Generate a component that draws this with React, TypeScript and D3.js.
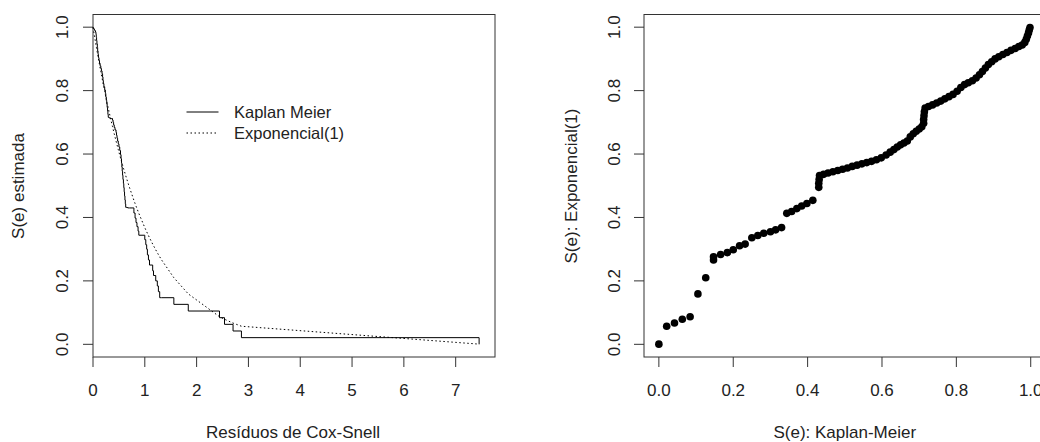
import React from "react";
import * as d3 from "d3";

// Right panel: pairs (S_KM(e_i), S_Exp(e_i)), ascending KM
const kmSurv: number[] = [
  0, 0.021, 0.042, 0.063, 0.084, 0.105, 0.126, 0.147, 0.147, 0.166, 0.184, 0.2, 0.217, 0.232, 0.25, 0.266,
  0.282, 0.3, 0.314, 0.33, 0.344, 0.357, 0.371, 0.384, 0.398, 0.414,
  0.43, 0.43, 0.431, 0.432, 0.443, 0.455, 0.468, 0.481, 0.494, 0.507, 0.52, 0.533, 0.546, 0.559, 0.572, 0.585,
  0.598, 0.611, 0.622, 0.632, 0.641, 0.65, 0.659, 0.668, 0.676, 0.684, 0.692, 0.7, 0.707, 0.712, 0.712, 0.713,
  0.714, 0.716, 0.725, 0.736, 0.747, 0.758, 0.769, 0.78, 0.791, 0.802, 0.812, 0.822, 0.832, 0.843, 0.853, 0.862,
  0.87, 0.878, 0.886, 0.895, 0.904, 0.914, 0.925, 0.936, 0.947, 0.958, 0.968, 0.977, 0.984, 0.988, 0.991, 0.994,
  0.996, 0.998,
];
const expSurv: number[] = [
  0.00058, 0.057, 0.067, 0.079, 0.087, 0.159, 0.21, 0.266, 0.276, 0.283, 0.289, 0.298, 0.311, 0.316, 0.336, 0.343,
  0.35, 0.355, 0.361, 0.368, 0.413, 0.419, 0.428, 0.436, 0.444, 0.454,
  0.495, 0.508, 0.52, 0.532, 0.536, 0.54, 0.544, 0.548, 0.552, 0.556, 0.561, 0.565, 0.569, 0.573, 0.577, 0.582,
  0.588, 0.597, 0.606, 0.614, 0.622, 0.629, 0.635, 0.641, 0.654, 0.664, 0.672, 0.679, 0.686, 0.697, 0.709, 0.721,
  0.733, 0.745, 0.75, 0.755, 0.761, 0.767, 0.774, 0.781, 0.788, 0.798, 0.81, 0.819, 0.825, 0.831, 0.84, 0.85,
  0.86, 0.871, 0.882, 0.891, 0.9, 0.907, 0.914, 0.92, 0.927, 0.933, 0.939, 0.944, 0.952, 0.962, 0.972, 0.982,
  0.991, 0.999,
];

const leftXTicks = [0, 1, 2, 3, 4, 5, 6, 7];
const probTicks = [0, 0.2, 0.4, 0.6, 0.8, 1.0];
const legendLabels = ["Kaplan Meier", "Exponencial(1)"];

const FONT = "'Liberation Sans', Arial, Helvetica, sans-serif";
const FS = 17;
const TXT = "#222";
const LN = "#333";

export default function App() {
  // Cox-Snell residuals (left panel x) from the Exp(1) survival values
  const pts = kmSurv.map((s, i) => ({ s, e: expSurv[i], t: -Math.log(expSurv[i]) }));
  const byT = [...pts].sort((a, b) => a.t - b.t);

  const yScale = d3.scaleLinear().domain([-0.04, 1.04]).range([357, 14.5]);
  const xL = d3.scaleLinear().domain([0, 7.759]).range([93, 495]);
  const xR = d3.scaleLinear().domain([-0.04, 1.04]).range([644, 1045.6]);

  // KM step function
  const stepData: [number, number][] = [[0, 1]];
  byT.forEach((p) => stepData.push([p.t, p.s]));
  const stepLine = d3
    .line<[number, number]>()
    .x((d) => xL(d[0]))
    .y((d) => yScale(d[1]))
    .curve(d3.curveStepAfter);
  const expLine = d3
    .line<{ t: number; e: number }>()
    .x((d) => xL(d.t))
    .y((d) => yScale(d.e));

  const yAxisLeft = (x0: number, labelX: number) =>
    probTicks.map((v) => (
      <g key={v}>
        <line x1={x0 - 10} x2={x0} y1={yScale(v)} y2={yScale(v)} stroke={LN} />
        <text
          transform={`translate(${labelX},${yScale(v)}) rotate(-90)`}
          textAnchor="middle"
          fontSize={FS}
          fill={TXT}
        >
          {v.toFixed(1)}
        </text>
      </g>
    ));

  return (
    <div style={{ position: "absolute", left: 0, top: 0 }}>
      <svg width={1040} height={442} style={{ display: "block", fontFamily: FONT }}>
        <rect x={0} y={0} width={1040} height={442} fill="#fff" />
        {/* LEFT PANEL */}
        <g>
          <rect x={93} y={14.5} width={402} height={342.5} fill="none" stroke={LN} />
          {leftXTicks.map((v) => (
            <g key={v}>
              <line x1={xL(v)} x2={xL(v)} y1={357} y2={367} stroke={LN} />
              <text x={xL(v)} y={396} textAnchor="middle" fontSize={FS} fill={TXT}>
                {v}
              </text>
            </g>
          ))}
          {yAxisLeft(93, 68)}
          <text x={xL(0) + 200} y={438} textAnchor="middle" fontSize={FS} fill={TXT}>
            Resíduos de Cox-Snell
          </text>
          <text transform={`translate(24,186) rotate(-90)`} textAnchor="middle" fontSize={FS} fill={TXT}>
            S(e) estimada
          </text>
          <path d={stepLine(stepData) || ""} fill="none" stroke="#000" strokeWidth={1} />
          <path
            d={expLine(byT) || ""}
            fill="none"
            stroke="#000"
            strokeWidth={1}
            strokeDasharray="1.5,2.5"
          />
          {/* legend */}
          <line x1={186.5} x2={218.5} y1={112} y2={112} stroke="#000" />
          <line x1={186.5} x2={218.5} y1={133} y2={133} stroke="#000" strokeDasharray="1.5,2.5" />
          <text x={234} y={118} fontSize={16.5} fill={TXT}>
            {legendLabels[0]}
          </text>
          <text x={234} y={139} fontSize={16.5} fill={TXT}>
            {legendLabels[1]}
          </text>
        </g>
        {/* RIGHT PANEL */}
        <g>
          <rect x={644} y={14.5} width={401.6} height={342.5} fill="none" stroke={LN} />
          {probTicks.map((v) => (
            <g key={v}>
              <line x1={xR(v)} x2={xR(v)} y1={357} y2={367} stroke={LN} />
              <text x={xR(v)} y={396} textAnchor="middle" fontSize={FS} fill={TXT}>
                {v.toFixed(1)}
              </text>
            </g>
          ))}
          {yAxisLeft(644, 620)}
          <text x={xR(0.5)} y={438} textAnchor="middle" fontSize={FS} fill={TXT}>
            S(e): Kaplan-Meier
          </text>
          <text transform={`translate(577,186) rotate(-90)`} textAnchor="middle" fontSize={FS} fill={TXT}>
            S(e): Exponencial(1)
          </text>
          {pts.map((p, i) => (
            <circle key={i} cx={xR(p.s)} cy={yScale(p.e)} r={3.8} fill="#000" />
          ))}
        </g>
      </svg>
    </div>
  );
}
